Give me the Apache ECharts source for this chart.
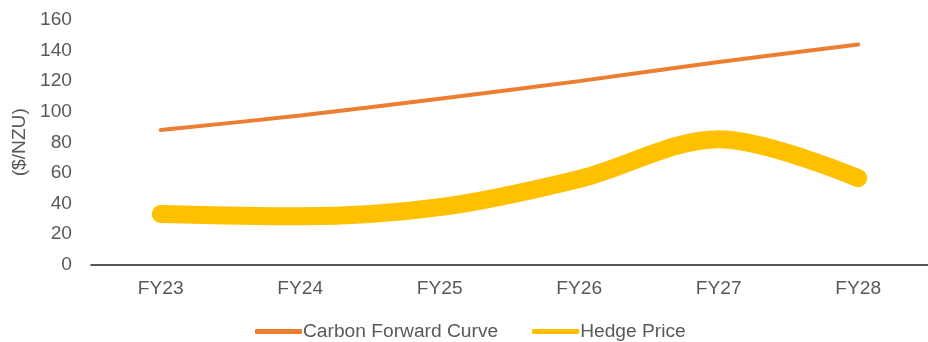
<!DOCTYPE html>
<html>
<head>
<meta charset="utf-8">
<script src="https://cdn.jsdelivr.net/npm/echarts@6/dist/echarts.min.js"></script>
<style>
  html, body { margin: 0; padding: 0; background: #fff; }
  #chart { width: 928px; height: 342px; }
</style>
</head>
<body>
<div id="chart"></div>
<script>
// Financial years on the x axis
const years = ['FY23', 'FY24', 'FY25', 'FY26', 'FY27', 'FY28'];
// Carbon forward curve ($/NZU)
const forwardCurve = [88, 97.5, 108.5, 120, 132.5, 144];
// Hedge price ($/NZU)
const hedgePrice = [33, 31.5, 37.5, 56, 82, 56.5];

const textColor = '#595959';
const fontFamily = '"Liberation Sans", Arial, sans-serif';
const fontSize = 19.2;

const chart = echarts.init(document.getElementById('chart'), null, { renderer: 'canvas' });
chart.setOption({
  animation: false,
  backgroundColor: '#ffffff',
  grid: { left: 91, right: 0, top: 20, bottom: 77.5 },
  textStyle: { fontFamily: fontFamily },
  legend: {
    left: 250,
    top: 317,
    itemWidth: 47,
    itemHeight: 5,
    itemGap: 34,
    icon: 'roundRect',
    textStyle: { color: textColor, fontSize: fontSize, fontFamily: fontFamily, padding: [0, 0, 0, -4] },
    data: ['Carbon Forward Curve', 'Hedge Price']
  },
  xAxis: {
    type: 'category',
    data: years,
    boundaryGap: true,
    axisLine: { show: true, lineStyle: { color: '#1f1f1f', width: 1.5 } },
    axisTick: { show: false },
    axisLabel: { color: textColor, fontSize: fontSize, fontFamily: fontFamily, margin: 15 },
    splitLine: { show: false }
  },
  yAxis: {
    type: 'value',
    min: 0,
    max: 160,
    interval: 20,
    name: '($/NZU)',
    nameLocation: 'middle',
    nameGap: 56,
    nameRotate: 90,
    nameTextStyle: { color: textColor, fontSize: fontSize, fontFamily: fontFamily },
    axisLine: { show: false },
    axisTick: { show: false },
    axisLabel: { color: textColor, fontSize: fontSize, fontFamily: fontFamily, margin: 19 },
    splitLine: { show: false }
  },
  series: [
    {
      name: 'Carbon Forward Curve',
      type: 'line',
      data: forwardCurve,
      smooth: 0.33,
      symbol: 'none',
      color: '#ED7D31',
      lineStyle: { color: '#ED7D31', width: 4, cap: 'round' },
      z: 3
    },
    {
      name: 'Hedge Price',
      type: 'line',
      data: hedgePrice,
      smooth: 0.33,
      symbol: 'none',
      color: '#FFC000',
      lineStyle: { color: '#FFC000', width: 18, cap: 'round', join: 'round' },
      z: 2
    }
  ]
});
</script>
</body>
</html>
